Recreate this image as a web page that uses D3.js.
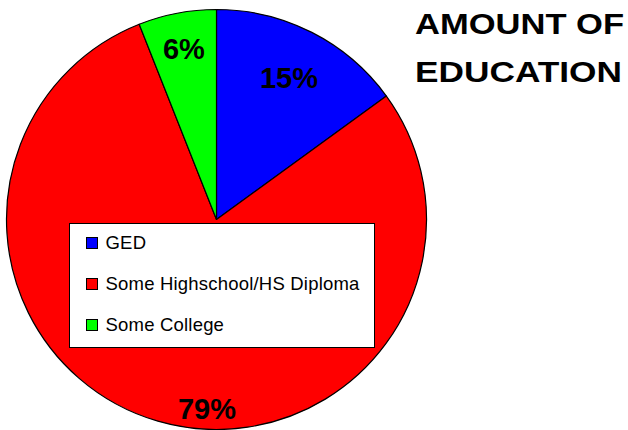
<!DOCTYPE html>
<html>
<head>
  <meta charset="utf-8">
  <style>
body {
  margin: 0;
  background: #fff;
}

svg {
  display: block;
  font-family: "Liberation Sans", Arial, sans-serif;
}
  </style>
</head>
<body>
  <svg id="chart" width="628" height="430"></svg>
  <script src="https://cdn.jsdelivr.net/npm/d3@7"></script>
  <script>
// Data
var categories = ["GED", "Some Highschool/HS Diploma", "Some College"];
var percents = [15, 79, 6];
var colors = ["#0000ff", "#ff0000", "#00ff00"];
var titleLines = ["AMOUNT OF", "EDUCATION"];

// Where each percentage label sits: fraction of radius and angle nudge (radians)
var labelPlace = [
  { r: 0.76, shift: 0 },
  { r: 0.90, shift: -0.232 },
  { r: 0.83, shift: 0 }
];

var svg = d3.select("#chart"),
    cx = 216.5,
    cy = 219.5,
    radius = 210;

var color = d3.scaleOrdinal()
    .domain(categories)
    .range(colors);

var pie = d3.pie()
    .sort(null)
    .value(function(d) { return d.value; });

var arc = d3.arc()
    .innerRadius(0)
    .outerRadius(radius);

var data = categories.map(function(c, i) { return { name: c, value: percents[i], idx: i }; });
var arcs = pie(data);

var g = svg.append("g")
    .attr("transform", "translate(" + cx + "," + cy + ")");

// Slices
g.selectAll("path")
  .data(arcs)
  .enter().append("path")
    .attr("d", arc)
    .attr("fill", function(d) { return color(d.data.name); })
    .attr("stroke", "#000")
    .attr("stroke-width", 1.2)
    .attr("stroke-linejoin", "round");

// Percentage labels
g.selectAll("text.pct")
  .data(arcs)
  .enter().append("text")
    .attr("class", "pct")
    .attr("transform", function(d) {
      var p = labelPlace[d.data.idx];
      var a = (d.startAngle + d.endAngle) / 2 + p.shift;
      var r = radius * p.r;
      return "translate(" + (Math.sin(a) * r) + "," + (-Math.cos(a) * r) + ")";
    })
    .attr("dy", "0.36em")
    .attr("text-anchor", "middle")
    .style("font-size", "29px")
    .style("font-weight", "bold")
    .attr("fill", "#000")
    .text(function(d) { return d.data.value + "%"; });

// Legend
var legend = svg.append("g")
    .attr("transform", "translate(69.5,223.5)");

legend.append("rect")
    .attr("width", 305)
    .attr("height", 124)
    .attr("fill", "#fff")
    .attr("stroke", "#000")
    .attr("stroke-width", 1);

var item = legend.selectAll("g.item")
  .data(categories)
  .enter().append("g")
    .attr("class", "item")
    .attr("transform", function(d, i) { return "translate(0," + (i * 41) + ")"; });

item.append("rect")
    .attr("x", 17)
    .attr("y", 14)
    .attr("width", 11)
    .attr("height", 11)
    .attr("fill", function(d) { return color(d); })
    .attr("stroke", "#000")
    .attr("stroke-width", 1);

item.append("text")
    .attr("x", 36)
    .attr("y", 25.5)
    .style("font-size", "18.5px")
    .style("letter-spacing", "0.2px")
    .attr("fill", "#000")
    .text(function(d) { return d; });

// Title
svg.selectAll("text.title")
  .data(titleLines)
  .enter().append("text")
    .attr("class", "title")
    .attr("x", 415)
    .attr("y", function(d, i) { return 34 + i * 48; })
    .attr("textLength", function(d, i) { return i ? 207 : 209; })
    .attr("lengthAdjust", "spacingAndGlyphs")
    .style("font-size", "29px")
    .style("font-weight", "bold")
    .attr("fill", "#000")
    .text(function(d) { return d; });
  </script>
</body>
</html>
